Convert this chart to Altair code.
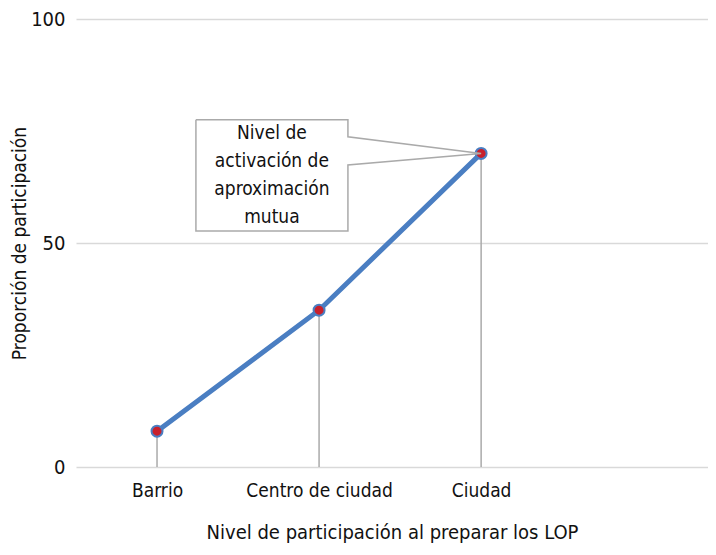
import altair as alt
import pandas as pd

categories = ["Barrio", "Centro de ciudad", "Ciudad"]
positions = [1, 2, 3]
values = [8, 35, 70]
y_ticks = [0, 50, 100]
callout_text = ["Nivel de", "activación de", "aproximación", "mutua"]
# callout box outline in data units (x: category position, y: value)
box_x = [1.24, 2.178, 2.178, 3.0, 2.178, 2.178, 1.24, 1.24]
box_y = [77.5, 77.5, 73.7, 70.0, 67.4, 52.7, 52.7, 77.5]
callout_x = [1.709]
callout_y = [74.6]

FONT = "DejaVu Sans Condensed"

df = pd.DataFrame({"cat": categories, "pos": positions, "val": values})
box = pd.DataFrame({"bx": box_x, "by": box_y, "o": list(range(len(box_x)))})
lab = pd.DataFrame({"tx": callout_x, "ty": callout_y, "t": [callout_text]})

label_expr = " : ".join(
    f"datum.value == {p} ? '{c}'" for p, c in zip(positions, categories)
) + " : ''"

xs = alt.Scale(domain=[0.5, 4.4], nice=False, zero=False)
ys = alt.Scale(domain=[0, 100], nice=False)

x_axis = alt.Axis(values=positions, labelExpr=label_expr, grid=False, ticks=False,
                  domain=False, labelFontSize=19, labelColor="#111", labelPadding=14,
                  title="Nivel de participación al preparar los LOP", titleFontSize=20,
                  titleFontWeight="normal", titleColor="#111", titlePadding=22,
                  labelFont=FONT, titleFont=FONT)
y_axis = alt.Axis(values=y_ticks, grid=True, gridColor="#d9d9d9", gridWidth=1.5,
                  ticks=False, domain=False, labelFontSize=20, labelColor="#111",
                  labelPadding=11, title="Proporción de participación", titleFontSize=19,
                  titleFontWeight="normal", titleColor="#111", titleX=-47,
                  titleY=224, titleAnchor="middle",
                  labelFont=FONT, titleFont=FONT)

base = alt.Chart(df)

drops = base.mark_rule(color="#aaaaaa", strokeWidth=1.5).encode(
    x=alt.X("pos:Q", scale=xs, axis=x_axis),
    y=alt.Y("val:Q", scale=ys, axis=y_axis),
    y2=alt.datum(0),
)

line = base.mark_line(color="#4a7ec2", strokeWidth=5).encode(
    x=alt.X("pos:Q", scale=xs), y=alt.Y("val:Q", scale=ys)
)

pts = base.mark_point(filled=False, shape="circle", size=120, fill="#c8202c",
                      stroke="#4a7ec2", strokeWidth=2, opacity=1).encode(
    x=alt.X("pos:Q", scale=xs), y=alt.Y("val:Q", scale=ys)
)

box_line = alt.Chart(box).mark_line(color="#aaaaaa", strokeWidth=1.5).encode(
    x=alt.X("bx:Q", scale=xs), y=alt.Y("by:Q", scale=ys), order="o:Q"
)

txt = alt.Chart(lab).mark_text(fontSize=19, font=FONT, color="#111", lineHeight=28,
                               align="center", baseline="middle").encode(
    x=alt.X("tx:Q", scale=xs), y=alt.Y("ty:Q", scale=ys), text="t"
)

chart = alt.layer(drops, line, pts, box_line, txt).properties(
    width=632, height=448,
    padding={"left": 68, "top": 11, "right": 0, "bottom": 80},
    autosize=alt.AutoSizeParams(type="none"),
).configure_view(stroke=None)

chart.save("out.html", embed_options={"renderer": "svg", "actions": False})
